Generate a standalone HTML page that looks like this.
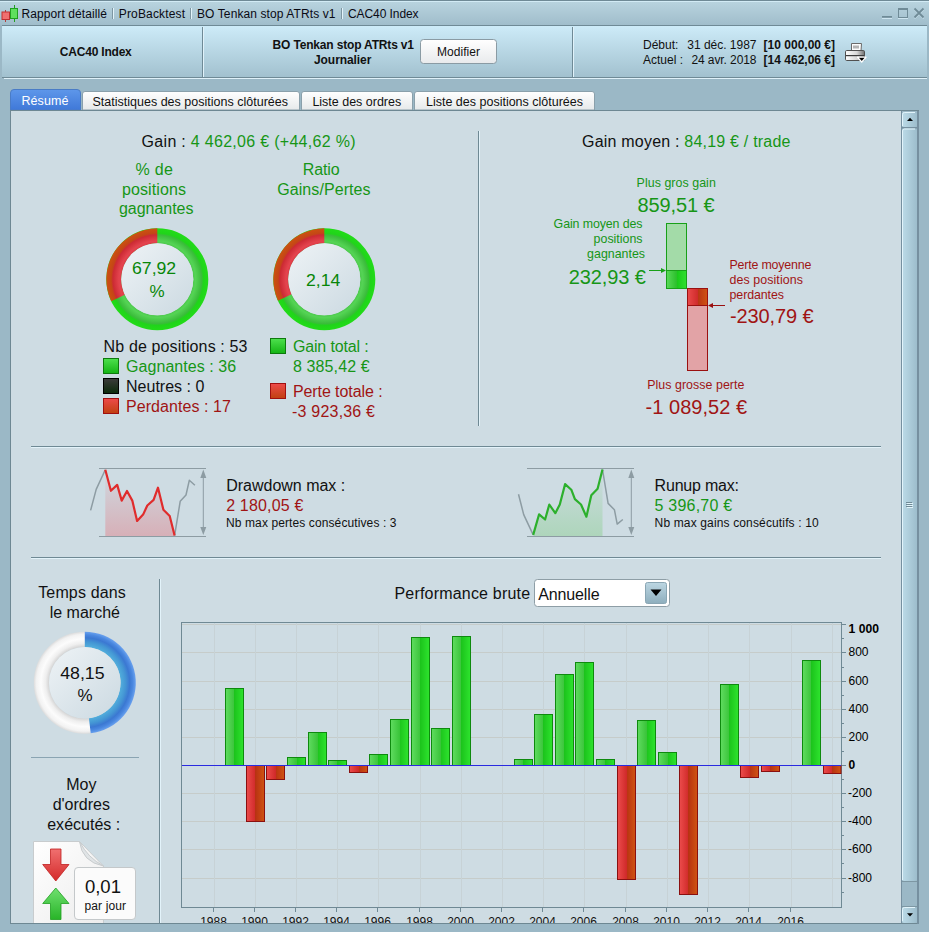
<!DOCTYPE html>
<html><head><meta charset="utf-8">
<style>
html,body{margin:0;padding:0;width:929px;height:932px;overflow:hidden;background:#9bb8c6;}
svg{display:block;font-family:"Liberation Sans",sans-serif;}
.t12{font-size:12px}
.b{font-weight:bold}
.g{fill:#169616}
.r{fill:#a01414}
.k{fill:#111}
</style></head><body>
<svg width="929" height="932" viewBox="0 0 929 932">
<defs>
  <linearGradient id="gTitle" x1="0" y1="0" x2="0" y2="1">
    <stop offset="0" stop-color="#bad5e0"/><stop offset="1" stop-color="#a0bdcb"/>
  </linearGradient>
  <linearGradient id="gHead" x1="0" y1="0" x2="0" y2="1">
    <stop offset="0" stop-color="#cdebf8"/><stop offset="1" stop-color="#a2c1cf"/>
  </linearGradient>
  <linearGradient id="gTabSel" x1="0" y1="0" x2="0" y2="1">
    <stop offset="0" stop-color="#5e97ea"/><stop offset="1" stop-color="#3f78d8"/>
  </linearGradient>
  <linearGradient id="gTab" x1="0" y1="0" x2="0" y2="1">
    <stop offset="0" stop-color="#ffffff"/><stop offset="1" stop-color="#e6e9ea"/>
  </linearGradient>
  <linearGradient id="gBtn" x1="0" y1="0" x2="0" y2="1">
    <stop offset="0" stop-color="#ffffff"/><stop offset="1" stop-color="#e8eaec"/>
  </linearGradient>
  <linearGradient id="gThumb" x1="0" y1="0" x2="1" y2="0">
    <stop offset="0" stop-color="#bcdbe8"/><stop offset="1" stop-color="#9dbdcc"/>
  </linearGradient>
</defs>

<!-- window background -->
<rect x="0" y="0" width="929" height="932" fill="#9bb8c6"/>

<!-- title bar -->
<rect x="0" y="0" width="929" height="25" fill="url(#gTitle)"/>
<rect x="0" y="0" width="929" height="1" fill="#6f8a96"/>
<rect x="0" y="1" width="929" height="1" fill="#d2ebf5"/>
<!-- candle icon -->
<rect x="5" y="10" width="1" height="12" fill="#b04040"/>
<rect x="2" y="12" width="7.5" height="7.5" fill="#f07070" stroke="#c03030" stroke-width="1"/>
<rect x="14" y="5" width="1" height="17" fill="#20a020"/>
<rect x="10.5" y="8.5" width="7" height="10" fill="#5ee05e" stroke="#20a020" stroke-width="1"/>
<g class="t12" fill="#0a0a14">
  <text x="21.5" y="18" textLength="85.5">Rapport détaillé</text>
  <text x="118.8" y="18" textLength="66.2">ProBacktest</text>
  <text x="197" y="18" textLength="138.5">BO Tenkan stop ATRts v1</text>
  <text x="348" y="18" textLength="70.6">CAC40 Index</text>
</g>
<rect x="112" y="8" width="1" height="11" fill="#7d96a2"/><rect x="113" y="8" width="1" height="11" fill="#e2f3fa"/>
<rect x="190" y="8" width="1" height="11" fill="#7d96a2"/><rect x="191" y="8" width="1" height="11" fill="#e2f3fa"/>
<rect x="341" y="8" width="1" height="11" fill="#7d96a2"/><rect x="342" y="8" width="1" height="11" fill="#e2f3fa"/>
<!-- window controls -->
<g fill="#d8eef8" opacity="0.8">
  <rect x="882" y="18" width="10" height="1"/>
  <rect x="898" y="18" width="10" height="1"/>
</g>
<path d="M914.6 9.6 L923.6 18.6 M923.6 9.6 L914.6 18.6" stroke="#d8eef8" stroke-width="1.4" opacity="0.7"/>
<g fill="#6f8b97">
  <rect x="882" y="16" width="10" height="1.7"/>
  <rect x="898" y="8" width="10" height="2"/><rect x="898" y="8" width="1" height="10"/><rect x="907" y="8" width="1" height="10"/><rect x="898" y="17" width="10" height="1"/>
</g>
<path d="M914.5 8.5 L923.5 17.5 M923.5 8.5 L914.5 17.5" stroke="#6f8b97" stroke-width="1.8"/>

<!-- header -->
<rect x="2" y="25" width="925" height="1" fill="#6f8a96"/>
<rect x="2" y="26" width="925" height="51" fill="url(#gHead)"/>
<rect x="2" y="77" width="925" height="1" fill="#6f8a96"/>
<rect x="4" y="78" width="923" height="1" fill="#dff1f9"/>
<rect x="202" y="27" width="1" height="50" fill="#6f8a96"/><rect x="203" y="27" width="1" height="50" fill="#e0f2fa"/>
<rect x="572" y="27" width="1" height="50" fill="#6f8a96"/><rect x="573" y="27" width="1" height="50" fill="#e0f2fa"/>
<g class="t12 b" fill="#111">
  <text x="59.8" y="56" textLength="72">CAC40 Index</text>
  <text x="272.6" y="49" textLength="141.4">BO Tenkan stop ATRts v1</text>
  <text x="314" y="64" textLength="57.4">Journalier</text>
</g>
<rect x="420.5" y="39.5" width="76" height="24" rx="3" fill="url(#gBtn)" stroke="#8a9ba4"/>
<text x="437" y="56" class="t12" fill="#111" textLength="43">Modifier</text>
<g class="t12" fill="#111">
  <text x="643" y="49">Début:</text>
  <text x="687.3" y="49" textLength="69.2">31 déc. 1987</text>
  <text x="643" y="64">Actuel :</text>
  <text x="691.4" y="64" textLength="65.1">24 avr. 2018</text>
  <text x="835" y="49" text-anchor="end" class="b">[10 000,00 €]</text>
  <text x="835" y="64" text-anchor="end" class="b">[14 462,06 €]</text>
</g>
<!-- printer -->
<g>
  <linearGradient id="prB" x1="0" y1="0" x2="1" y2="0"><stop offset="0" stop-color="#ffffff"/><stop offset="0.6" stop-color="#d8d8d8"/><stop offset="1" stop-color="#707070"/></linearGradient>
  <path d="M851.5 51 L851.5 43.5 L861.5 43.5 L861 51 Z" fill="#fbfbfb" stroke="#6a6a6a"/>
  <rect x="853" y="45.5" width="6" height="3" fill="#b4b4b4"/>
  <rect x="845.5" y="50.5" width="19" height="10" rx="1.2" fill="url(#prB)" stroke="#505050"/>
  <rect x="846" y="55" width="18" height="1.2" fill="#3c3c3c"/>
  <path d="M857.5 57.2 L866 57.2 L861.75 62 Z" fill="#000" stroke="#fff" stroke-width="1.3" stroke-linejoin="round"/>
</g>

<!-- tabs -->
<path d="M10.5 110 L10.5 93 Q10.5 89.5 14 89.5 L77 89.5 Q80.5 89.5 80.5 93 L80.5 110 Z" fill="url(#gTabSel)" stroke="#4a7cc6"/>
<text x="21.5" y="105" font-size="12.5" fill="#fff" textLength="46.9">Résumé</text>
<path d="M82.5 110 L82.5 94 Q82.5 91.5 85 91.5 L297 91.5 Q299.5 91.5 299.5 94 L299.5 110 Z" fill="url(#gTab)" stroke="#8aa0ab"/>
<text x="92.4" y="106" font-size="12.5" fill="#111" textLength="195.6">Statistiques des positions clôturées</text>
<path d="M301.5 110 L301.5 94 Q301.5 91.5 304 91.5 L410 91.5 Q412.5 91.5 412.5 94 L412.5 110 Z" fill="url(#gTab)" stroke="#8aa0ab"/>
<text x="312.4" y="106" font-size="12.5" fill="#111" textLength="88.8">Liste des ordres</text>
<path d="M414.5 110 L414.5 94 Q414.5 91.5 417 91.5 L592 91.5 Q594.5 91.5 594.5 94 L594.5 110 Z" fill="url(#gTab)" stroke="#8aa0ab"/>
<text x="583" y="106" font-size="12.5" fill="#111" text-anchor="end">Liste des positions clôturées</text>

<!-- content panel -->
<rect x="11" y="111" width="907" height="812" fill="#cedce3"/>
<rect x="10" y="110" width="909" height="1" fill="#6e8893"/>
<rect x="10" y="110" width="1" height="814" fill="#6e8893"/>
<rect x="10" y="923" width="909" height="1" fill="#6e8893"/>

<!-- scrollbar -->
<rect x="901" y="111" width="18" height="812" fill="#9bb8c6"/>
<rect x="901" y="111" width="1" height="812" fill="#7690a0"/>
<rect x="917" y="111" width="2" height="813" fill="#7690a0"/>
<g>
<rect x="902" y="112" width="15" height="15" rx="2.5" fill="url(#gThumb)"/>
<path d="M902.5 126 L902.5 114.5 Q902.5 112.5 904.5 112.5 L915 112.5" fill="none" stroke="#e2f4fb"/>
<rect x="902" y="127" width="15" height="1.5" fill="#7690a0"/>
<path d="M907 121 L913 121 L910 117.8 Z" fill="#000"/>
<rect x="902" y="128.5" width="15" height="752.5" rx="2.5" fill="url(#gThumb)"/>
<path d="M902.5 880 L902.5 131 Q902.5 129 904.5 129 L915 129" fill="none" stroke="#e2f4fb"/>
<rect x="902" y="881" width="15" height="1" fill="#7d97a3"/>
<g fill="#6f8a96"><rect x="906" y="502" width="6" height="1"/><rect x="906" y="504" width="6" height="1"/><rect x="906" y="506" width="6" height="1"/></g>
<g fill="#e2f4fb"><rect x="907" y="503" width="6" height="1"/><rect x="907" y="505" width="6" height="1"/><rect x="907" y="507" width="6" height="1"/></g>
<rect x="902" y="906" width="15" height="1" fill="#7d97a3"/>
<rect x="902" y="907" width="15" height="16" rx="2.5" fill="url(#gThumb)"/>
<path d="M902.5 921 L902.5 909.5 Q902.5 907.5 904.5 907.5 L915 907.5" fill="none" stroke="#e2f4fb"/>
<path d="M907 913.2 L913 913.2 L910 916.4 Z" fill="#000"/>
</g>

<clipPath id="pclip"><rect x="11" y="111" width="890" height="812"/></clipPath>
<g clip-path="url(#pclip)">
<text x="141.6" y="147" font-size="16" fill="#111" textLength="213.9" lengthAdjust="spacing">Gain : <tspan fill="#169616">4 462,06 € (+44,62 %)</tspan></text>
<text x="135.6" y="175" font-size="16" fill="#169616" text-anchor="start" textLength="37.3" lengthAdjust="spacing">% de</text>
<text x="122" y="194.7" font-size="16" fill="#169616" text-anchor="start" textLength="63.9" lengthAdjust="spacing">positions</text>
<text x="119" y="214.2" font-size="16" fill="#169616" text-anchor="start" textLength="74.4" lengthAdjust="spacing">gagnantes</text>
<text x="302.8" y="175" font-size="16" fill="#169616" text-anchor="start" textLength="36.8" lengthAdjust="spacing">Ratio</text>
<text x="277.2" y="194.7" font-size="16" fill="#169616" text-anchor="start" textLength="93.4" lengthAdjust="spacing">Gains/Pertes</text>
<radialGradient id="gg1" gradientUnits="userSpaceOnUse" cx="157.3" cy="279.3" r="51">
<stop offset="0.70" stop-color="#4cc84c"/><stop offset="0.75" stop-color="#55d455"/><stop offset="0.87" stop-color="#3abc3a"/><stop offset="0.905" stop-color="#20d41a"/><stop offset="1" stop-color="#22dc18"/></radialGradient>
<radialGradient id="gr1" gradientUnits="userSpaceOnUse" cx="157.3" cy="279.3" r="51">
<stop offset="0.70" stop-color="#dc3c48"/><stop offset="0.75" stop-color="#e4444e"/><stop offset="0.87" stop-color="#cc2a34"/><stop offset="0.905" stop-color="#c44616"/><stop offset="1" stop-color="#cc5210"/></radialGradient>
<linearGradient id="gi1" x1="0" y1="0" x2="1" y2="1"><stop offset="0" stop-color="#eef3f6"/><stop offset="1" stop-color="#cbd9e1"/></linearGradient>
<circle cx="157.3" cy="279.3" r="43.5" fill="none" stroke="url(#gg1)" stroke-width="15"/>
<path d="M157.3 228.3 A51 51 0 0 0 111.26 301.25 L124.80 294.79 A36 36 0 0 1 157.3 243.3 Z" fill="url(#gr1)"/>
<circle cx="157.3" cy="279.3" r="36" fill="url(#gi1)"/>
<radialGradient id="gg2" gradientUnits="userSpaceOnUse" cx="324.3" cy="279.3" r="51">
<stop offset="0.70" stop-color="#4cc84c"/><stop offset="0.75" stop-color="#55d455"/><stop offset="0.87" stop-color="#3abc3a"/><stop offset="0.905" stop-color="#20d41a"/><stop offset="1" stop-color="#22dc18"/></radialGradient>
<radialGradient id="gr2" gradientUnits="userSpaceOnUse" cx="324.3" cy="279.3" r="51">
<stop offset="0.70" stop-color="#dc3c48"/><stop offset="0.75" stop-color="#e4444e"/><stop offset="0.87" stop-color="#cc2a34"/><stop offset="0.905" stop-color="#c44616"/><stop offset="1" stop-color="#cc5210"/></radialGradient>
<linearGradient id="gi2" x1="0" y1="0" x2="1" y2="1"><stop offset="0" stop-color="#eef3f6"/><stop offset="1" stop-color="#cbd9e1"/></linearGradient>
<circle cx="324.3" cy="279.3" r="43.5" fill="none" stroke="url(#gg2)" stroke-width="15"/>
<path d="M324.3 228.3 A51 51 0 0 0 277.98 300.64 L291.60 294.36 A36 36 0 0 1 324.3 243.3 Z" fill="url(#gr2)"/>
<circle cx="324.3" cy="279.3" r="36" fill="url(#gi2)"/>
<text x="132" y="274" font-size="17" fill="#088608" text-anchor="start" textLength="44.2" lengthAdjust="spacingAndGlyphs">67,92</text>
<text x="157" y="296.5" font-size="17" fill="#088608" text-anchor="middle">%</text>
<text x="306" y="285.5" font-size="17" fill="#088608" text-anchor="start" textLength="34.4" lengthAdjust="spacingAndGlyphs">2,14</text>
<text x="103.6" y="351.5" font-size="16" fill="#111111" text-anchor="start" textLength="143.8" lengthAdjust="spacing">Nb de positions : 53</text>
<linearGradient id="sqg103358" x1="0" y1="0" x2="0" y2="1"><stop offset="0" stop-color="#4ee04e"/><stop offset="1" stop-color="#14b414"/></linearGradient>
<rect x="103.5" y="358.5" width="15" height="15" fill="url(#sqg103358)" stroke="#0d7a0d"/>
<text x="126" y="371.5" font-size="16" fill="#169616" text-anchor="start" textLength="110.2" lengthAdjust="spacing">Gagnantes : 36</text>
<linearGradient id="sqk103378" x1="0" y1="0" x2="0" y2="1"><stop offset="0" stop-color="#3c3c3c"/><stop offset="1" stop-color="#0a2a0a"/></linearGradient>
<rect x="103.5" y="378.5" width="15" height="15" fill="url(#sqk103378)" stroke="#000"/>
<text x="126" y="391.5" font-size="16" fill="#111111" text-anchor="start" textLength="78.4" lengthAdjust="spacing">Neutres : 0</text>
<linearGradient id="sqr103398" x1="0" y1="0" x2="0" y2="1"><stop offset="0" stop-color="#ee4a4a"/><stop offset="1" stop-color="#c04010"/></linearGradient>
<rect x="103.5" y="398.5" width="15" height="15" fill="url(#sqr103398)" stroke="#a01010"/>
<text x="126" y="411.5" font-size="16" fill="#a01414" text-anchor="start" textLength="105" lengthAdjust="spacing">Perdantes : 17</text>
<linearGradient id="sqg270338" x1="0" y1="0" x2="0" y2="1"><stop offset="0" stop-color="#4ee04e"/><stop offset="1" stop-color="#14b414"/></linearGradient>
<rect x="270.5" y="338.5" width="15" height="15" fill="url(#sqg270338)" stroke="#0d7a0d"/>
<text x="292.9" y="351.5" font-size="16" fill="#169616" text-anchor="start" textLength="75.8" lengthAdjust="spacing">Gain total :</text>
<text x="292.9" y="371.5" font-size="16" fill="#169616" text-anchor="start" textLength="76.8" lengthAdjust="spacing">8 385,42 €</text>
<linearGradient id="sqr270383" x1="0" y1="0" x2="0" y2="1"><stop offset="0" stop-color="#ee4a4a"/><stop offset="1" stop-color="#c04010"/></linearGradient>
<rect x="270.5" y="383.5" width="15" height="15" fill="url(#sqr270383)" stroke="#a01010"/>
<text x="292.9" y="396.5" font-size="16" fill="#a01414" text-anchor="start" textLength="89.7" lengthAdjust="spacing">Perte totale :</text>
<text x="292.1" y="416.5" font-size="16" fill="#a01414" text-anchor="start" textLength="82.9" lengthAdjust="spacing">-3 923,36 €</text>
<rect x="478" y="131" width="1" height="295" fill="#6f8994"/><rect x="479" y="131" width="1" height="295" fill="#e3f3fa"/>
<rect x="31" y="446" width="850" height="1" fill="#6f8994"/><rect x="31" y="447" width="850" height="1" fill="#e3f3fa"/>
<rect x="31" y="557" width="850" height="1" fill="#6f8994"/><rect x="31" y="558" width="850" height="1" fill="#e3f3fa"/>
<text x="582" y="147" font-size="16" fill="#111" textLength="208.5" lengthAdjust="spacing">Gain moyen : <tspan fill="#169616">84,19 € / trade</tspan></text>
<text x="636.6" y="187" font-size="12.4" fill="#169616" text-anchor="start" textLength="79.2" lengthAdjust="spacing">Plus gros gain</text>
<text x="637.6" y="212" font-size="20" fill="#169616" text-anchor="start" textLength="76.9" lengthAdjust="spacing">859,51 €</text>
<text x="553.6" y="228" font-size="12.4" fill="#169616" text-anchor="start" textLength="88.9" lengthAdjust="spacing">Gain moyen des</text>
<text x="642.5" y="243" font-size="12.4" fill="#169616" text-anchor="end">positions</text>
<text x="645" y="258" font-size="12.4" fill="#169616" text-anchor="end">gagnantes</text>
<text x="568.7" y="284" font-size="20" fill="#169616" text-anchor="start" textLength="77.1" lengthAdjust="spacing">232,93 €</text>
<text x="729.5" y="269" font-size="12.4" fill="#a01414" text-anchor="start" textLength="81.9" lengthAdjust="spacing">Perte moyenne</text>
<text x="729.5" y="284" font-size="12.4" fill="#a01414" text-anchor="start" textLength="73.4" lengthAdjust="spacing">des positions</text>
<text x="729.5" y="299" font-size="12.4" fill="#a01414" text-anchor="start" textLength="54.5" lengthAdjust="spacing">perdantes</text>
<text x="730" y="322.5" font-size="20" fill="#a01414" text-anchor="start" textLength="83.7" lengthAdjust="spacing">-230,79 €</text>
<text x="647.2" y="389" font-size="12.4" fill="#a01414" text-anchor="start" textLength="97.2" lengthAdjust="spacing">Plus grosse perte</text>
<text x="645.5" y="414" font-size="20" fill="#a01414" text-anchor="start" textLength="101.6" lengthAdjust="spacing">-1 089,52 €</text>
<linearGradient id="bgD" x1="0" y1="0" x2="1" y2="0"><stop offset="0" stop-color="#5ada5a"/><stop offset="0.5" stop-color="#2cc02c"/><stop offset="0.5" stop-color="#18c818"/><stop offset="1" stop-color="#30e030"/></linearGradient>
<linearGradient id="brD" x1="0" y1="0" x2="1" y2="0"><stop offset="0" stop-color="#ea4a4a"/><stop offset="0.5" stop-color="#d02c2c"/><stop offset="0.5" stop-color="#b83414"/><stop offset="1" stop-color="#d05414"/></linearGradient>
<rect x="666.5" y="223.5" width="20" height="47" fill="#a3dba8" stroke="#18a018"/>
<rect x="666.5" y="270.5" width="20" height="18" fill="url(#bgD)" stroke="#18a018"/>
<rect x="687.5" y="288.5" width="20" height="17" fill="url(#brD)" stroke="#9a1010"/>
<rect x="687.5" y="305.5" width="20" height="65" fill="#e2a3a6" stroke="#9a1010"/>
<path d="M649 270.5 L662 270.5" stroke="#18a018" stroke-width="1"/><path d="M666 270.5 L661 268 L661 273 Z" fill="#18a018"/>
<path d="M712 305.5 L725 305.5" stroke="#9a1010" stroke-width="1"/><path d="M708 305.5 L713 303 L713 308 Z" fill="#9a1010"/>
<linearGradient id="sfd" x1="0" y1="0" x2="0" y2="1"><stop offset="0" stop-color="#d8a8b0" stop-opacity="0.05"/><stop offset="1" stop-color="#d8a8b0" stop-opacity="0.85"/></linearGradient>
<polygon points="105.3,536 105.3,469.8 110.9,490.8 117.2,484.9 121.7,500.6 127,491 132.3,500.6 137.1,520.9 143.1,514.6 147.3,505.5 153.6,499.9 158,487.7 163.4,509.7 169.7,516 174.6,535.6 174.6,536" fill="url(#sfd)"/>
<rect x="99" y="468" width="107" height="1" fill="#8d9ca3"/>
<rect x="99" y="536" width="107" height="1" fill="#8d9ca3"/>
<polyline points="90.6,510.4 96.2,489.4 105.3,469.8" fill="none" stroke="#8d9ca3" stroke-width="1.5" stroke-linejoin="round"/>
<polyline points="174.6,535.6 180.2,501.3 186,495 189.3,480.3 194.9,485.2" fill="none" stroke="#8d9ca3" stroke-width="1.5" stroke-linejoin="round"/>
<polyline points="105.3,469.8 110.9,490.8 117.2,484.9 121.7,500.6 127,491 132.3,500.6 137.1,520.9 143.1,514.6 147.3,505.5 153.6,499.9 158,487.7 163.4,509.7 169.7,516 174.6,535.6" fill="none" stroke="#e02c2c" stroke-width="2.2" stroke-linejoin="round"/>
<rect x="202.8" y="474" width="1" height="57" fill="#8d9ca3"/>
<path d="M203.3 469.5 L200.3 478 L206.3 478 Z M203.3 535 L200.3 527 L206.3 527 Z" fill="#8d9ca3"/>
<linearGradient id="sfu" x1="0" y1="0" x2="0" y2="1"><stop offset="0" stop-color="#a8d4b4" stop-opacity="0.05"/><stop offset="1" stop-color="#a8d4b4" stop-opacity="0.85"/></linearGradient>
<polygon points="533.2,536 533.2,534.9 539.1,514.3 545.1,519.5 549.3,504.5 555.3,513.2 559.8,504.5 565.1,484.1 571.3,489.7 574.9,499.2 581,504.5 586.4,516.7 591.3,495.3 597.6,488.7 602.5,469.5 602.5,536" fill="url(#sfu)"/>
<rect x="527" y="468" width="107" height="1" fill="#8d9ca3"/>
<rect x="527" y="536" width="107" height="1" fill="#8d9ca3"/>
<polyline points="518.5,494.3 523.7,514.6 533.2,534.9" fill="none" stroke="#8d9ca3" stroke-width="1.5" stroke-linejoin="round"/>
<polyline points="602.5,469.5 608.1,503.4 614.4,509.7 617.2,524.1 622.8,519.5" fill="none" stroke="#8d9ca3" stroke-width="1.5" stroke-linejoin="round"/>
<polyline points="533.2,534.9 539.1,514.3 545.1,519.5 549.3,504.5 555.3,513.2 559.8,504.5 565.1,484.1 571.3,489.7 574.9,499.2 581,504.5 586.4,516.7 591.3,495.3 597.6,488.7 602.5,469.5" fill="none" stroke="#2cb02c" stroke-width="2.2" stroke-linejoin="round"/>
<rect x="630.8" y="474" width="1" height="57" fill="#8d9ca3"/>
<path d="M631.3 469.5 L628.3 478 L634.3 478 Z M631.3 535 L628.3 527 L634.3 527 Z" fill="#8d9ca3"/>
<text x="226.2" y="490.5" font-size="16" fill="#111111" text-anchor="start" textLength="119" lengthAdjust="spacing">Drawdown max :</text>
<text x="226.2" y="510.5" font-size="16" fill="#a01414" text-anchor="start" textLength="77.1" lengthAdjust="spacing">2 180,05 €</text>
<text x="226" y="526.5" font-size="12" fill="#111111" text-anchor="start" textLength="170.5" lengthAdjust="spacing">Nb max pertes consécutives : 3</text>
<text x="654.6" y="490.5" font-size="16" fill="#111111" text-anchor="start" textLength="84.4" lengthAdjust="spacing">Runup max:</text>
<text x="654.6" y="510.5" font-size="16" fill="#169616" text-anchor="start" textLength="77.5" lengthAdjust="spacing">5 396,70 €</text>
<text x="654.6" y="526.5" font-size="12" fill="#111111" text-anchor="start" textLength="164.1" lengthAdjust="spacing">Nb max gains consécutifs : 10</text>
<text x="38.2" y="598" font-size="16" fill="#111111" text-anchor="start" textLength="87.6" lengthAdjust="spacing">Temps dans</text>
<text x="84.8" y="617.5" font-size="16" fill="#111111" text-anchor="middle">le marché</text>
<radialGradient id="tw" gradientUnits="userSpaceOnUse" cx="84.8" cy="682.7" r="51">
<stop offset="0.70" stop-color="#d4d4d4"/><stop offset="0.77" stop-color="#eeeeee"/><stop offset="0.86" stop-color="#fcfcfc"/><stop offset="0.95" stop-color="#f2f2f2"/><stop offset="1" stop-color="#dcdcdc"/></radialGradient>
<radialGradient id="tb" gradientUnits="userSpaceOnUse" cx="84.8" cy="682.7" r="51">
<stop offset="0.70" stop-color="#52aedc"/><stop offset="0.80" stop-color="#4496d4"/><stop offset="0.88" stop-color="#3b78d2"/><stop offset="0.94" stop-color="#4a88e0"/><stop offset="1" stop-color="#6aa2ee"/></radialGradient>
<linearGradient id="ti" x1="0" y1="0" x2="1" y2="1"><stop offset="0" stop-color="#eef3f6"/><stop offset="1" stop-color="#cbd9e1"/></linearGradient>
<circle cx="84.8" cy="682.7" r="43.4" fill="none" stroke="url(#tw)" stroke-width="15.200000000000003"/>
<path d="M84.8 631.7 A51 51 0 0 1 90.71 733.36 L88.95 718.26 A35.8 35.8 0 0 0 84.8 646.9000000000001 Z" fill="url(#tb)"/>
<circle cx="84.8" cy="682.7" r="35.8" fill="url(#ti)"/>
<text x="60.2" y="678.5" font-size="17" fill="#111111" text-anchor="start" textLength="44.4" lengthAdjust="spacingAndGlyphs">48,15</text>
<text x="85" y="700.5" font-size="17" fill="#111111" text-anchor="middle">%</text>
<rect x="31" y="757" width="108" height="1" fill="#8aa4b2"/>
<rect x="159" y="579" width="1" height="344" fill="#6f8994"/><rect x="160" y="579" width="1" height="344" fill="#e3f3fa"/>
<text x="81.3" y="790" font-size="16" fill="#111111" text-anchor="middle">Moy</text>
<text x="81.3" y="810" font-size="16" fill="#111111" text-anchor="middle">d'ordres</text>
<text x="47.2" y="830" font-size="16" fill="#111111" text-anchor="start" textLength="73.1" lengthAdjust="spacing">exécutés :</text>
<linearGradient id="doc" x1="0" y1="0" x2="1" y2="1"><stop offset="0" stop-color="#ffffff"/><stop offset="1" stop-color="#ececec"/></linearGradient>
<path d="M33.5 923 L33.5 841.5 L79.5 841.5 L103.5 866 L103.5 923" fill="url(#doc)" stroke="#c8ccce"/>
<path d="M79.5 841.5 Q82 862 103.5 866 Q88 858 79.5 841.5 Z" fill="#e0e4e6" stroke="#c8ccce"/>
<linearGradient id="arR" x1="0" y1="0" x2="0" y2="1"><stop offset="0" stop-color="#f07070"/><stop offset="1" stop-color="#d42a2a"/></linearGradient>
<linearGradient id="arG" x1="0" y1="0" x2="0" y2="1"><stop offset="0" stop-color="#70e070"/><stop offset="1" stop-color="#28b428"/></linearGradient>
<path d="M50.5 849 L61 849 L61 864.5 L69 864.5 L55.8 881 L42.7 864.5 L50.5 864.5 Z" fill="url(#arR)" stroke="#c02020" stroke-width="0.8"/>
<path d="M55.8 888 L69 903.5 L61 903.5 L61 919.5 L50.5 919.5 L50.5 903.5 L42.7 903.5 Z" fill="url(#arG)" stroke="#20a020" stroke-width="0.8"/>
<rect x="74.5" y="867.5" width="61" height="52" rx="3.5" fill="#fbfbfb" stroke="#c4c8ca"/>
<text x="84.9" y="892.5" font-size="18.5" fill="#111111" text-anchor="start" textLength="36.1" lengthAdjust="spacingAndGlyphs">0,01</text>
<text x="84.5" y="909.5" font-size="12" fill="#111111" text-anchor="start" textLength="41.6" lengthAdjust="spacing">par jour</text>
<text x="394.5" y="599" font-size="16" fill="#111111" text-anchor="start" textLength="135.6" lengthAdjust="spacing">Performance brute</text>
<rect x="534.5" y="579.5" width="135" height="27" rx="3" fill="#fff" stroke="#8e9ea6"/>
<text x="538.2" y="599.5" font-size="16" fill="#111111" text-anchor="start" textLength="61.4" lengthAdjust="spacing">Annuelle</text>
<linearGradient id="cbb" x1="0" y1="0" x2="0" y2="1"><stop offset="0" stop-color="#bcd6e2"/><stop offset="1" stop-color="#8eaebd"/></linearGradient>
<rect x="645.5" y="582.5" width="21" height="21" rx="2" fill="url(#cbb)" stroke="#8aa6b4"/>
<path d="M650.5 589.5 L661.5 589.5 L656 596 Z" fill="#000"/>
<rect x="181.5" y="622.5" width="660" height="285" fill="#cedce3" stroke="#6f8994"/>
<line x1="182" y1="878.5" x2="841" y2="878.5" stroke="#c6ccca" stroke-width="1"/>
<line x1="182" y1="849.5" x2="841" y2="849.5" stroke="#c6ccca" stroke-width="1"/>
<line x1="182" y1="821.5" x2="841" y2="821.5" stroke="#c6ccca" stroke-width="1"/>
<line x1="182" y1="793.5" x2="841" y2="793.5" stroke="#c6ccca" stroke-width="1"/>
<line x1="182" y1="765.5" x2="841" y2="765.5" stroke="#c6ccca" stroke-width="1"/>
<line x1="182" y1="737.5" x2="841" y2="737.5" stroke="#c6ccca" stroke-width="1"/>
<line x1="182" y1="709.5" x2="841" y2="709.5" stroke="#c6ccca" stroke-width="1"/>
<line x1="182" y1="681.5" x2="841" y2="681.5" stroke="#c6ccca" stroke-width="1"/>
<line x1="182" y1="652.5" x2="841" y2="652.5" stroke="#c6ccca" stroke-width="1"/>
<line x1="182" y1="624.5" x2="841" y2="624.5" stroke="#c6ccca" stroke-width="1"/>
<line x1="214.5" y1="623" x2="214.5" y2="907" stroke="#c7d2d6" stroke-width="1"/>
<line x1="255.5" y1="623" x2="255.5" y2="907" stroke="#c7d2d6" stroke-width="1"/>
<line x1="296.5" y1="623" x2="296.5" y2="907" stroke="#c7d2d6" stroke-width="1"/>
<line x1="337.5" y1="623" x2="337.5" y2="907" stroke="#c7d2d6" stroke-width="1"/>
<line x1="378.5" y1="623" x2="378.5" y2="907" stroke="#c7d2d6" stroke-width="1"/>
<line x1="420.5" y1="623" x2="420.5" y2="907" stroke="#c7d2d6" stroke-width="1"/>
<line x1="461.5" y1="623" x2="461.5" y2="907" stroke="#c7d2d6" stroke-width="1"/>
<line x1="502.5" y1="623" x2="502.5" y2="907" stroke="#c7d2d6" stroke-width="1"/>
<line x1="543.5" y1="623" x2="543.5" y2="907" stroke="#c7d2d6" stroke-width="1"/>
<line x1="584.5" y1="623" x2="584.5" y2="907" stroke="#c7d2d6" stroke-width="1"/>
<line x1="626.5" y1="623" x2="626.5" y2="907" stroke="#c7d2d6" stroke-width="1"/>
<line x1="667.5" y1="623" x2="667.5" y2="907" stroke="#c7d2d6" stroke-width="1"/>
<line x1="708.5" y1="623" x2="708.5" y2="907" stroke="#c7d2d6" stroke-width="1"/>
<line x1="749.5" y1="623" x2="749.5" y2="907" stroke="#c7d2d6" stroke-width="1"/>
<line x1="791.5" y1="623" x2="791.5" y2="907" stroke="#c7d2d6" stroke-width="1"/>
<line x1="832.5" y1="623" x2="832.5" y2="907" stroke="#c7d2d6" stroke-width="1"/>
<linearGradient id="barG" x1="0" y1="0" x2="1" y2="0"><stop offset="0" stop-color="#60dc60"/><stop offset="0.5" stop-color="#3ac43a"/><stop offset="0.5" stop-color="#1cc41c"/><stop offset="1" stop-color="#2ee42e"/></linearGradient>
<linearGradient id="barR" x1="0" y1="0" x2="1" y2="0"><stop offset="0" stop-color="#ec4c4c"/><stop offset="0.5" stop-color="#d02a2a"/><stop offset="0.5" stop-color="#b83212"/><stop offset="1" stop-color="#d05412"/></linearGradient>
<rect x="225.5" y="688.5" width="18" height="77" fill="url(#barG)" stroke="#0e8a0e"/>
<rect x="287.5" y="757.5" width="18" height="8" fill="url(#barG)" stroke="#0e8a0e"/>
<rect x="308.5" y="732.5" width="18" height="33" fill="url(#barG)" stroke="#0e8a0e"/>
<rect x="328.5" y="760.5" width="18" height="5" fill="url(#barG)" stroke="#0e8a0e"/>
<rect x="369.5" y="754.5" width="18" height="11" fill="url(#barG)" stroke="#0e8a0e"/>
<rect x="390.5" y="719.5" width="18" height="46" fill="url(#barG)" stroke="#0e8a0e"/>
<rect x="411.5" y="637.5" width="18" height="128" fill="url(#barG)" stroke="#0e8a0e"/>
<rect x="431.5" y="728.5" width="18" height="37" fill="url(#barG)" stroke="#0e8a0e"/>
<rect x="452.5" y="636.5" width="18" height="129" fill="url(#barG)" stroke="#0e8a0e"/>
<rect x="514.5" y="759.5" width="18" height="6" fill="url(#barG)" stroke="#0e8a0e"/>
<rect x="534.5" y="714.5" width="18" height="51" fill="url(#barG)" stroke="#0e8a0e"/>
<rect x="555.5" y="674.5" width="18" height="91" fill="url(#barG)" stroke="#0e8a0e"/>
<rect x="575.5" y="662.5" width="18" height="103" fill="url(#barG)" stroke="#0e8a0e"/>
<rect x="596.5" y="759.5" width="18" height="6" fill="url(#barG)" stroke="#0e8a0e"/>
<rect x="637.5" y="720.5" width="18" height="45" fill="url(#barG)" stroke="#0e8a0e"/>
<rect x="658.5" y="752.5" width="18" height="13" fill="url(#barG)" stroke="#0e8a0e"/>
<rect x="720.5" y="684.5" width="18" height="81" fill="url(#barG)" stroke="#0e8a0e"/>
<rect x="802.5" y="660.5" width="18" height="105" fill="url(#barG)" stroke="#0e8a0e"/>
<rect x="246.5" y="765.5" width="18" height="56" fill="url(#barR)" stroke="#8a1010"/>
<rect x="266.5" y="765.5" width="18" height="14" fill="url(#barR)" stroke="#8a1010"/>
<rect x="349.5" y="765.5" width="18" height="7" fill="url(#barR)" stroke="#8a1010"/>
<rect x="617.5" y="765.5" width="18" height="114" fill="url(#barR)" stroke="#8a1010"/>
<rect x="679.5" y="765.5" width="18" height="129" fill="url(#barR)" stroke="#8a1010"/>
<rect x="740.5" y="765.5" width="18" height="12" fill="url(#barR)" stroke="#8a1010"/>
<rect x="761.5" y="765.5" width="18" height="6" fill="url(#barR)" stroke="#8a1010"/>
<rect x="823.5" y="765.5" width="17.5" height="8" fill="url(#barR)" stroke="#8a1010"/>
<rect x="182" y="765" width="659" height="1" fill="#2a2ae0"/>
<line x1="842" y1="892.5" x2="844" y2="892.5" stroke="#6f8994"/>
<line x1="842" y1="878.5" x2="846" y2="878.5" stroke="#6f8994"/>
<line x1="842" y1="863.5" x2="844" y2="863.5" stroke="#6f8994"/>
<line x1="842" y1="849.5" x2="846" y2="849.5" stroke="#6f8994"/>
<line x1="842" y1="835.5" x2="844" y2="835.5" stroke="#6f8994"/>
<line x1="842" y1="821.5" x2="846" y2="821.5" stroke="#6f8994"/>
<line x1="842" y1="807.5" x2="844" y2="807.5" stroke="#6f8994"/>
<line x1="842" y1="793.5" x2="846" y2="793.5" stroke="#6f8994"/>
<line x1="842" y1="779.5" x2="844" y2="779.5" stroke="#6f8994"/>
<line x1="842" y1="765.5" x2="846" y2="765.5" stroke="#6f8994"/>
<line x1="842" y1="751.5" x2="844" y2="751.5" stroke="#6f8994"/>
<line x1="842" y1="737.5" x2="846" y2="737.5" stroke="#6f8994"/>
<line x1="842" y1="723.5" x2="844" y2="723.5" stroke="#6f8994"/>
<line x1="842" y1="709.5" x2="846" y2="709.5" stroke="#6f8994"/>
<line x1="842" y1="695.5" x2="844" y2="695.5" stroke="#6f8994"/>
<line x1="842" y1="681.5" x2="846" y2="681.5" stroke="#6f8994"/>
<line x1="842" y1="667.5" x2="844" y2="667.5" stroke="#6f8994"/>
<line x1="842" y1="652.5" x2="846" y2="652.5" stroke="#6f8994"/>
<line x1="842" y1="638.5" x2="844" y2="638.5" stroke="#6f8994"/>
<line x1="842" y1="624.5" x2="846" y2="624.5" stroke="#6f8994"/>
<text x="848" y="881.6" font-size="12" fill="#000" text-anchor="start">-800</text>
<text x="848" y="852.6" font-size="12" fill="#000" text-anchor="start">-600</text>
<text x="848" y="824.6" font-size="12" fill="#000" text-anchor="start">-400</text>
<text x="848" y="796.6" font-size="12" fill="#000" text-anchor="start">-200</text>
<text x="848.5" y="768.6" font-size="12" fill="#000" text-anchor="start" font-weight="bold">0</text>
<text x="848.5" y="740.6" font-size="12" fill="#000" text-anchor="start">200</text>
<text x="848.5" y="712.6" font-size="12" fill="#000" text-anchor="start">400</text>
<text x="848.5" y="684.6" font-size="12" fill="#000" text-anchor="start">600</text>
<text x="848.5" y="655.6" font-size="12" fill="#000" text-anchor="start">800</text>
<text x="848.5" y="633" font-size="13.2" fill="#000" text-anchor="start" font-weight="bold" textLength="30.4" lengthAdjust="spacingAndGlyphs">1 000</text>
<line x1="213.5" y1="908" x2="213.5" y2="912" stroke="#6f8994"/>
<text x="213.5" y="925.5" font-size="12" fill="#111" text-anchor="middle">1988</text>
<line x1="254.5" y1="908" x2="254.5" y2="912" stroke="#6f8994"/>
<text x="254.5" y="925.5" font-size="12" fill="#111" text-anchor="middle">1990</text>
<line x1="295.5" y1="908" x2="295.5" y2="912" stroke="#6f8994"/>
<text x="295.5" y="925.5" font-size="12" fill="#111" text-anchor="middle">1992</text>
<line x1="336.5" y1="908" x2="336.5" y2="912" stroke="#6f8994"/>
<text x="336.5" y="925.5" font-size="12" fill="#111" text-anchor="middle">1994</text>
<line x1="377.5" y1="908" x2="377.5" y2="912" stroke="#6f8994"/>
<text x="377.5" y="925.5" font-size="12" fill="#111" text-anchor="middle">1996</text>
<line x1="419.5" y1="908" x2="419.5" y2="912" stroke="#6f8994"/>
<text x="419.5" y="925.5" font-size="12" fill="#111" text-anchor="middle">1998</text>
<line x1="460.5" y1="908" x2="460.5" y2="912" stroke="#6f8994"/>
<text x="460.5" y="925.5" font-size="12" fill="#111" text-anchor="middle">2000</text>
<line x1="501.5" y1="908" x2="501.5" y2="912" stroke="#6f8994"/>
<text x="501.5" y="925.5" font-size="12" fill="#111" text-anchor="middle">2002</text>
<line x1="542.5" y1="908" x2="542.5" y2="912" stroke="#6f8994"/>
<text x="542.5" y="925.5" font-size="12" fill="#111" text-anchor="middle">2004</text>
<line x1="583.5" y1="908" x2="583.5" y2="912" stroke="#6f8994"/>
<text x="583.5" y="925.5" font-size="12" fill="#111" text-anchor="middle">2006</text>
<line x1="625.5" y1="908" x2="625.5" y2="912" stroke="#6f8994"/>
<text x="625.5" y="925.5" font-size="12" fill="#111" text-anchor="middle">2008</text>
<line x1="666.5" y1="908" x2="666.5" y2="912" stroke="#6f8994"/>
<text x="666.5" y="925.5" font-size="12" fill="#111" text-anchor="middle">2010</text>
<line x1="707.5" y1="908" x2="707.5" y2="912" stroke="#6f8994"/>
<text x="707.5" y="925.5" font-size="12" fill="#111" text-anchor="middle">2012</text>
<line x1="748.5" y1="908" x2="748.5" y2="912" stroke="#6f8994"/>
<text x="748.5" y="925.5" font-size="12" fill="#111" text-anchor="middle">2014</text>
<line x1="790.5" y1="908" x2="790.5" y2="912" stroke="#6f8994"/>
<text x="790.5" y="925.5" font-size="12" fill="#111" text-anchor="middle">2016</text>
</g>

</svg>
</body></html>
